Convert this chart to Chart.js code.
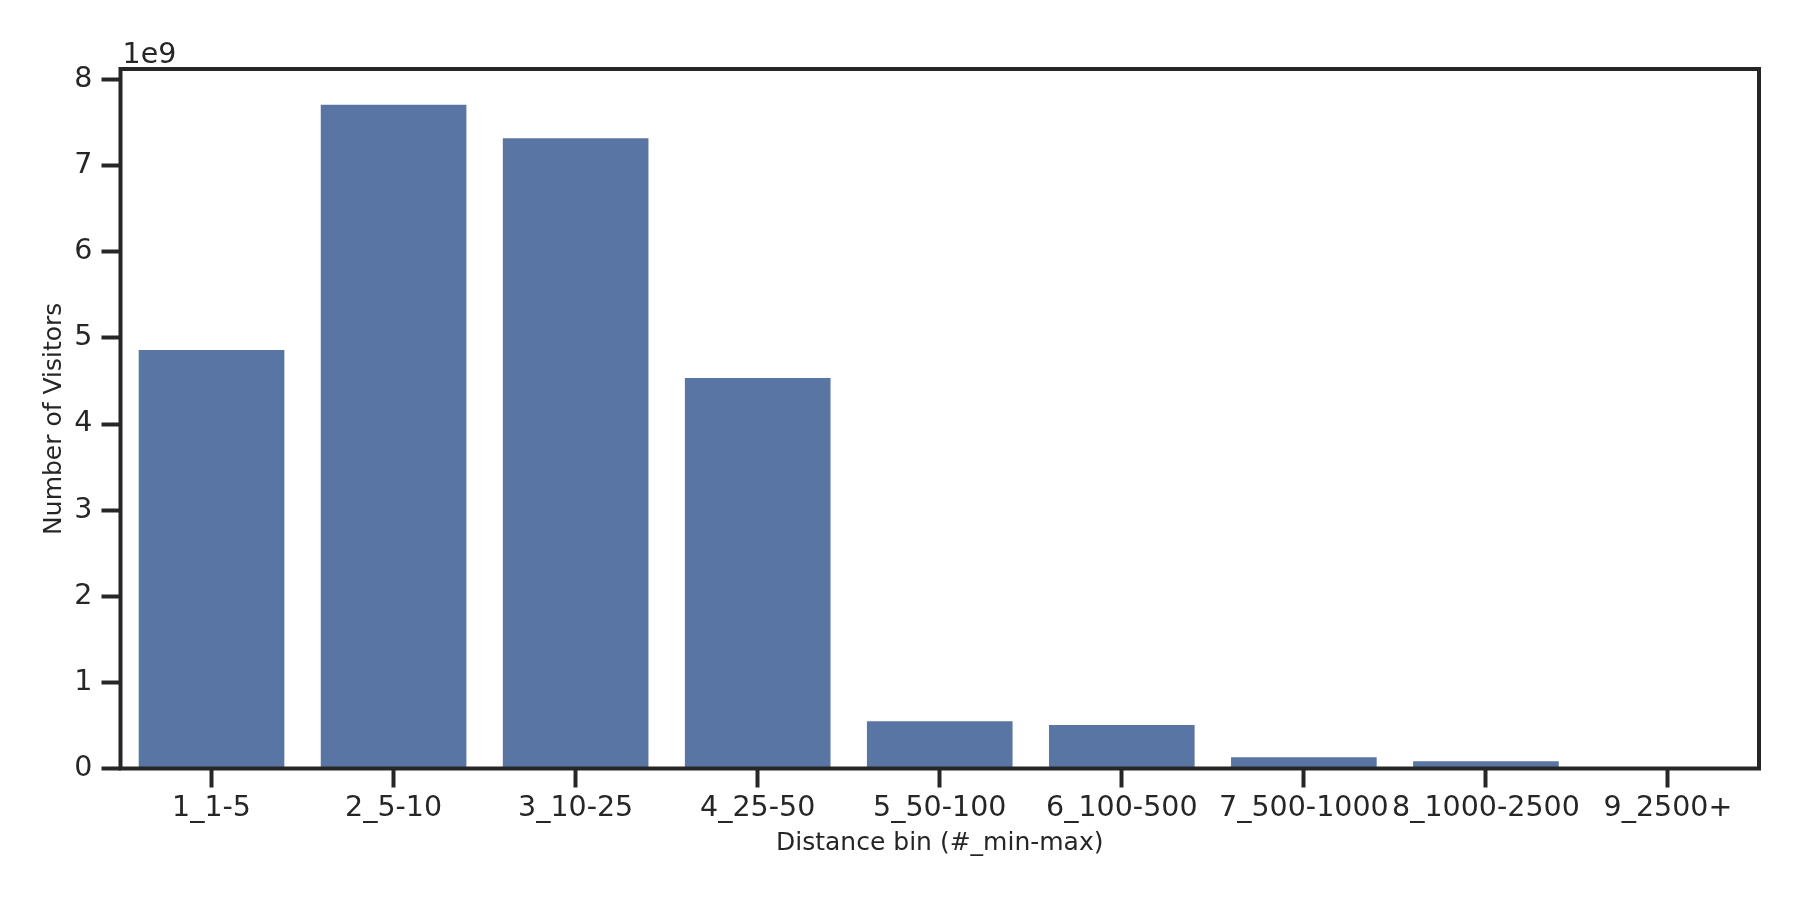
<!DOCTYPE html>
<html>
<head>
<meta charset="utf-8">
<script src="https://cdn.jsdelivr.net/npm/chart.js@4/dist/chart.umd.min.js"></script>
<style>
  html, body { margin: 0; padding: 0; background: #fff; }
  #wrap { width: 1800px; height: 900px; }
</style>
</head>
<body>
<div id="wrap"><canvas id="c" width="1800" height="900"></canvas></div>
<script>
// distance bins and visitor counts
const bins = ["1_1-5", "2_5-10", "3_10-25", "4_25-50", "5_50-100", "6_100-500", "7_500-1000", "8_1000-2500", "9_2500+"];
const visitors = [4.86e9, 7.71e9, 7.32e9, 4.535e9, 0.55e9, 0.505e9, 0.13e9, 0.085e9, 0.002e9];
const yTicks = [0, 1, 2, 3, 4, 5, 6, 7, 8];

const ink = "#262626";
const barColor = "#5975a4";
const font = "'DejaVu Sans', sans-serif";

// full box around the plot + offset text, like matplotlib spines
const frame = {
  id: "frame",
  afterDraw(chart) {
    const { ctx, chartArea: a } = chart;
    ctx.save();
    ctx.strokeStyle = ink;
    ctx.lineWidth = 4;
    ctx.strokeRect(a.left, a.top, a.right - a.left, a.bottom - a.top);
    ctx.fillStyle = ink;
    ctx.font = "28.5px " + font;
    ctx.textBaseline = "alphabetic";
    ctx.textAlign = "left";
    ctx.fillText("1e9", a.left + 2, a.top - 6);
    ctx.restore();
  }
};

new Chart(document.getElementById("c"), {
  type: "bar",
  data: {
    labels: bins,
    datasets: [{ data: visitors, backgroundColor: barColor, borderWidth: 0, categoryPercentage: 0.8, barPercentage: 1.0 }]
  },
  options: {
    responsive: false,
    devicePixelRatio: 1,
    animation: false,
    layout: { padding: { left: 0, right: 41, top: 69, bottom: 0 } },
    plugins: { legend: { display: false }, tooltip: { enabled: false } },
    scales: {
      x: {
        offset: true,
        afterFit(s) { s.height = 131.5; },
        grid: { offset: false, drawOnChartArea: false, drawTicks: true, tickLength: 19, tickWidth: 4, tickColor: ink },
        border: { display: false },
        ticks: { color: ink, font: { family: font, size: 28.5 }, padding: 4, maxRotation: 0, minRotation: 0, autoSkip: false },
        title: { display: true, text: "Distance bin (#_min-max)", color: ink, font: { family: font, size: 25 }, padding: { top: 0, bottom: 42 } }
      },
      y: {
        min: 0,
        max: 8.124e9,
        afterFit(s) { s.width = 120.5; },
        afterBuildTicks(s) { s.ticks = yTicks.map(v => ({ value: v * 1e9 })); },
        grid: { drawOnChartArea: false, drawTicks: true, tickLength: 19, tickWidth: 4, tickColor: ink },
        border: { display: false },
        ticks: { color: ink, font: { family: font, size: 28.5 }, padding: 9, callback: v => String(Math.round(v / 1e9)) },
        title: { display: true, text: "Number of Visitors", color: ink, font: { family: font, size: 25 }, padding: { top: 39, bottom: 0 } }
      }
    }
  },
  plugins: [frame]
});
</script>
</body>
</html>
